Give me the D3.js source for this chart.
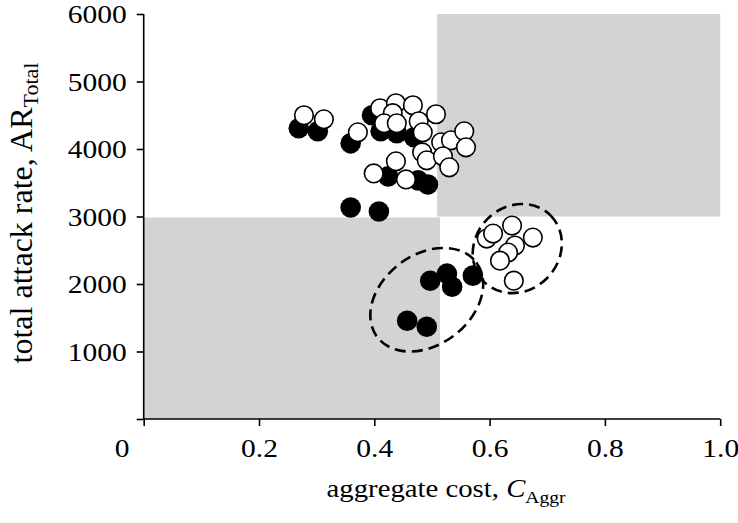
<!DOCTYPE html>
<html>
<head>
<meta charset="utf-8">
<script src="https://cdn.jsdelivr.net/npm/d3@7"></script>
<style>
  html, body { margin: 0; padding: 0; background: #fff; }
  svg { display: block; }
  text { font-family: "Liberation Serif", "Times New Roman", serif; fill: #000; }
</style>
</head>
<body>
<svg id="chart" width="738" height="523"></svg>
<script>
// ---- data ----
const xTicks = [0, 0.2, 0.4, 0.6, 0.8, 1.0];
const xTickLabels = ["0", "0.2", "0.4", "0.6", "0.8", "1.0"];
const yTicks = [0, 1000, 2000, 3000, 4000, 5000, 6000];
const yTickLabels = ["", "1000", "2000", "3000", "4000", "5000", "6000"];

// filled circles (aggregate cost, total attack rate)
const filledX = [0.269, 0.302, 0.359, 0.396, 0.411, 0.439, 0.469, 0.424, 0.476, 0.493, 0.359, 0.408, 0.497, 0.526, 0.535, 0.571, 0.457, 0.491];
const filledY = [4307, 4262, 4084, 4500, 4262, 4233, 4173, 3594, 3535, 3475, 3134, 3074, 2049, 2153, 1960, 2124, 1455, 1366];

// open circles
const openX = [0.278, 0.3125, 0.3715, 0.399, 0.410, 0.4375, 0.467, 0.507, 0.432, 0.417, 0.439, 0.477, 0.484, 0.516, 0.533, 0.556, 0.559, 0.483, 0.491, 0.519, 0.530, 0.4375, 0.455,
               0.595, 0.606, 0.639, 0.675, 0.644, 0.632, 0.618, 0.642];
const openY = [4500, 4440, 4247, 3638, 4604, 4678, 4648, 4515, 4530, 4381, 4381, 4411, 4247, 4099, 4129, 4262, 4025, 3950, 3832, 3891, 3728, 3817, 3549,
               2673, 2747, 2866, 2688, 2569, 2465, 2346, 2049];

// shaded regions [x0, x1, y0, y1]
const regionX0 = [0, 0.509];
const regionX1 = [0.514, 1.0];
const regionY0 = [0, 3000];
const regionY1 = [2985, 6000];

// dashed ellipses: centres in data units
const ellipseCX = [0.491, 0.648];
const ellipseCY = [1767, 2525];

// ---- layout ----
const svg = d3.select("#chart");
const x = d3.scaleLinear().domain([0, 1]).range([143.7, 720.2]);
const y = d3.scaleLinear().domain([0, 6000]).range([419, 14]);

// shaded regions
svg.append("g").selectAll("rect")
  .data(regionX0.map((d, i) => ({x0: d, x1: regionX1[i], y0: regionY0[i], y1: regionY1[i]})))
  .join("rect")
  .attr("x", d => x(d.x0))
  .attr("y", d => y(d.y1))
  .attr("width", d => x(d.x1) - x(d.x0))
  .attr("height", d => y(d.y0) - y(d.y1))
  .attr("fill", "#d3d3d3");

// axes
const xAxis = d3.axisBottom(x).tickValues(xTicks).tickSize(7).tickFormat((d, i) => xTickLabels[i]);
const yAxis = d3.axisLeft(y).tickValues(yTicks).tickSize(7).tickFormat((d, i) => yTickLabels[i]);

const gx = svg.append("g").attr("transform", `translate(0,${y(0)})`).call(xAxis);
const gy = svg.append("g").attr("transform", `translate(${x(0)},0)`).call(yAxis);

[gx, gy].forEach(g => {
  g.select(".domain").attr("stroke", "#000").attr("stroke-width", 1.6);
  g.selectAll(".tick line").attr("stroke", "#000").attr("stroke-width", 1.6);
  g.selectAll(".tick text").attr("font-family", "Liberation Serif").attr("font-size", 25).attr("fill", "#000");
});
gx.select(".domain").attr("d", `M${x(0)},0H${x(1)}`);
gy.select(".domain").attr("d", `M0,${y(0)}V${y(6000)}`);
gx.selectAll(".tick text").attr("y", 0).attr("dy", 0)
  .attr("transform", "translate(0,38) scale(1.18,1)");
gx.selectAll(".tick").filter(d => d === 0).select("text").attr("transform", "translate(-22,38) scale(1.18,1)");
gy.selectAll(".tick text").attr("x", 0).attr("dy", "0.34em")
  .attr("text-anchor", "end")
  .attr("transform", "translate(-17,0) scale(1.18,1)");

// ellipses
const ellipseRX = [62, 47];
const ellipseRY = [45, 42];
const ellipseRot = [-37, -45];
svg.append("g").selectAll("ellipse")
  .data(ellipseCX.map((d, i) => ({cx: d, cy: ellipseCY[i], rx: ellipseRX[i], ry: ellipseRY[i], rot: ellipseRot[i]})))
  .join("ellipse")
  .attr("transform", d => `translate(${x(d.cx)},${y(d.cy)}) rotate(${d.rot})`)
  .attr("rx", d => d.rx)
  .attr("ry", d => d.ry)
  .attr("fill", "none")
  .attr("stroke", "#000")
  .attr("stroke-width", 2.6)
  .attr("stroke-dasharray", "11,6");

// filled points
svg.append("g").selectAll("circle")
  .data(filledX.map((d, i) => ({x: d, y: filledY[i]})))
  .join("circle")
  .attr("cx", d => x(d.x))
  .attr("cy", d => y(d.y))
  .attr("r", 10.3)
  .attr("fill", "#000");

// open points
svg.append("g").selectAll("circle")
  .data(openX.map((d, i) => ({x: d, y: openY[i]})))
  .join("circle")
  .attr("cx", d => x(d.x))
  .attr("cy", d => y(d.y))
  .attr("r", 9.3)
  .attr("fill", "#fff")
  .attr("stroke", "#000")
  .attr("stroke-width", 1.6);

// axis titles
const xt = svg.append("text")
  .attr("transform", "translate(446,497) scale(1.15,1)")
  .attr("text-anchor", "middle")
  .attr("font-size", 25);
xt.append("tspan").text("aggregate cost, ");
xt.append("tspan").attr("font-style", "italic").text("C");
xt.append("tspan").attr("font-size", 17).attr("dy", 6).text("Aggr");

const yt = svg.append("text")
  .attr("transform", "translate(32,213) rotate(-90)")
  .attr("text-anchor", "middle")
  .attr("font-size", 32);
yt.append("tspan").text("total attack rate, AR");
yt.append("tspan").attr("font-size", 22).attr("dy", 6).text("Total");
</script>
</body>
</html>
